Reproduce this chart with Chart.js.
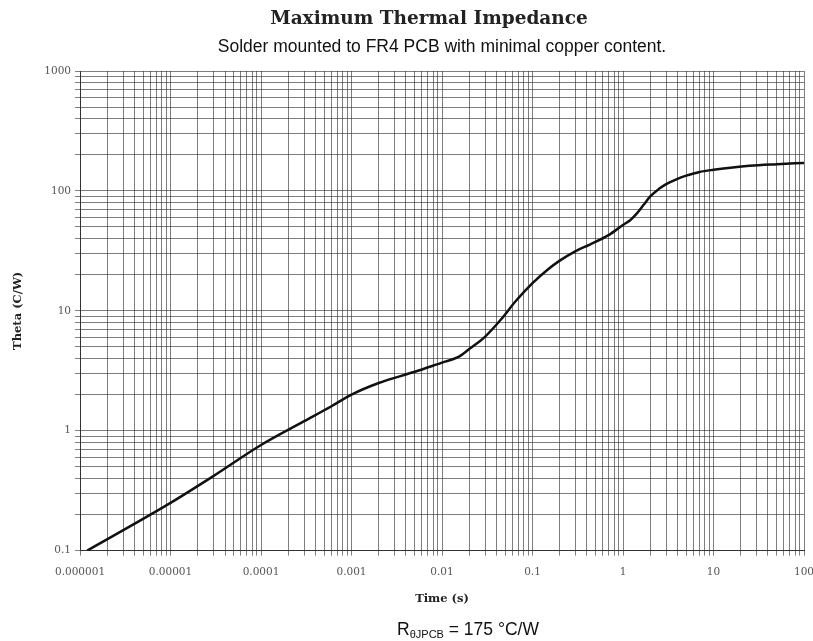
<!DOCTYPE html>
<html>
<head>
<meta charset="utf-8">
<script src="https://cdn.jsdelivr.net/npm/chart.js@4.4.1/dist/chart.umd.min.js"></script>
<style>
  html, body { margin: 0; padding: 0; background: #fff; width: 813px; height: 641px; overflow: hidden; }
  #wrap { position: relative; width: 813px; height: 641px; overflow: hidden; }
  #c { position: absolute; left: 0; top: 0; }
  .txt { position: absolute; left: 0; text-align: center; white-space: nowrap; }
  #title { width: 858px; top: 7px; line-height: 22px; font-family: "DejaVu Serif", serif; font-weight: bold; font-size: 18.5px; color: #222; }
  #subtitle { width: 884px; top: 35px; line-height: 22px; font-family: "Liberation Sans", Arial, sans-serif; font-size: 17.5px; color: #111; }
  #note { width: 936px; top: 619px; font-family: "Liberation Sans", Arial, sans-serif; font-size: 17.5px; color: #111; }
  #note sub { font-size: 11px; vertical-align: -3px; }
</style>
</head>
<body>
<div id="wrap">
  <canvas id="c" width="830" height="641"></canvas>
  <div id="title" class="txt">Maximum Thermal Impedance</div>
  <div id="subtitle" class="txt">Solder mounted to FR4 PCB with minimal copper content.</div>
  <div id="note" class="txt">R<sub>θJPCB</sub> = 175 °C/W</div>
</div>
<script>
// ---- data ----
const timeS = [1.2e-6, 1e-5, 3e-5, 1e-4, 3e-4, 6e-4, 1e-3, 2e-3, 5e-3, 0.01, 0.015, 0.02, 0.03, 0.045, 0.065, 0.1, 0.15, 0.2, 0.3, 0.43, 0.7, 1, 1.2, 1.4, 1.7, 2, 2.5, 3, 4, 5, 7, 10, 25, 50, 100];
const thetaCW = [0.1, 0.25, 0.42, 0.76, 1.2, 1.6, 2.0, 2.5, 3.1, 3.7, 4.1, 4.8, 6.1, 8.5, 12, 17, 22.3, 26.2, 31.5, 35.7, 43, 52, 57, 64, 77, 90, 104, 114, 126, 134, 144, 150, 162, 167, 171];
const xTickValues = [1e-6, 1e-5, 1e-4, 1e-3, 1e-2, 1e-1, 1, 10, 100];
const xTickLabels = ['0.000001', '0.00001', '0.0001', '0.001', '0.01', '0.1', '1', '10', '100'];
const yTickValues = [0.1, 1, 10, 100, 1000];
const yTickLabels = ['0.1', '1', '10', '100', '1000'];

function logTicks(min, max) {
  const out = [];
  const d0 = Math.round(Math.log10(min)), d1 = Math.round(Math.log10(max));
  for (let d = d0; d < d1; d++) {
    for (let k = 1; k <= 9; k++) out.push({ value: k * Math.pow(10, d) });
  }
  out.push({ value: Math.pow(10, d1) });
  return out;
}
function labelFor(v, vals, labels) {
  for (let i = 0; i < vals.length; i++) {
    if (Math.abs(Math.log10(v) - Math.log10(vals[i])) < 1e-6) return labels[i];
  }
  return '';
}

const gridColor = 'rgba(40,40,40,0.6)';
const tickFont = { family: '"DejaVu Serif", serif', size: 10.5 };
const axisTitleFont = { family: '"DejaVu Serif", serif', size: 11.5, weight: 'bold' };

new Chart(document.getElementById('c'), {
  type: 'line',
  data: {
    datasets: [{
      data: timeS.map((t, i) => ({ x: t, y: thetaCW[i] })),
      borderColor: '#111',
      borderWidth: 2.5,
      pointRadius: 0,
      cubicInterpolationMode: 'monotone',
      fill: false
    }]
  },
  options: {
    responsive: false,
    animation: false,
    layout: { padding: { left: 11, right: 26, top: 71, bottom: 35 } },
    plugins: {
      legend: { display: false },
      tooltip: { enabled: false },
      title: { display: false },
      subtitle: { display: false }
    },
    scales: {
      x: {
        type: 'logarithmic',
        min: 1e-6, max: 100,
        afterBuildTicks: s => { s.ticks = logTicks(1e-6, 100); },
        ticks: {
          autoSkip: false, maxRotation: 0, minRotation: 0,
          font: tickFont, color: '#555', padding: 10,
          callback: v => labelFor(v, xTickValues, xTickLabels)
        },
        grid: { color: gridColor, lineWidth: 1, tickLength: 5 },
        border: { color: '#333', width: 1 },
        title: {
          display: true, text: 'Time (s)',
          font: axisTitleFont,
          color: '#222', padding: { top: 4, bottom: 0 }
        }
      },
      y: {
        type: 'logarithmic',
        min: 0.1, max: 1000,
        afterBuildTicks: s => { s.ticks = logTicks(0.1, 1000); },
        ticks: {
          autoSkip: false,
          font: tickFont, color: '#555', padding: 4,
          callback: v => labelFor(v, yTickValues, yTickLabels)
        },
        grid: { color: gridColor, lineWidth: 1, tickLength: 5 },
        border: { color: '#333', width: 1 },
        title: {
          display: true, text: 'Theta (C/W)',
          font: axisTitleFont,
          color: '#222', padding: { top: 0, bottom: 15.5 }
        }
      }
    }
  }
});
</script>
</body>
</html>
